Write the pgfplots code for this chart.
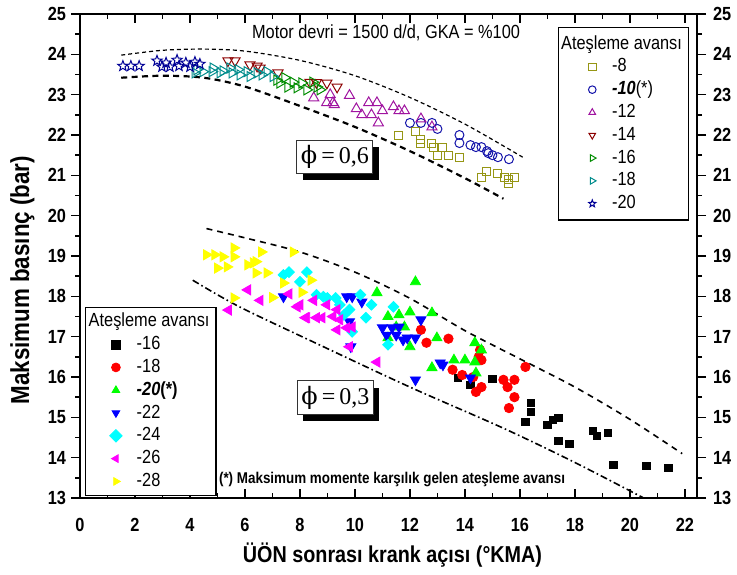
\documentclass[border=0pt]{standalone}
\usepackage{fontspec}
\setmainfont{Liberation Sans}[FakeStretch=0.86]
\newfontfamily\serifphi{Liberation Serif}
\newfontfamily\dejaserif{DejaVu Serif}
\usepackage{pgfplots}
\pgfplotsset{compat=1.18}
\usetikzlibrary{shadows}

\definecolor{c8}{RGB}{150,150,20}
\definecolor{c10}{RGB}{20,20,170}
\definecolor{c12}{RGB}{160,20,160}
\definecolor{c14}{RGB}{140,0,0}
\definecolor{c16}{RGB}{0,140,0}
\definecolor{c18}{RGB}{0,140,140}
\definecolor{c20}{RGB}{0,0,150}
\definecolor{lgreen}{RGB}{0,255,0}
\definecolor{lblue}{RGB}{0,0,255}
\definecolor{lcyan}{RGB}{0,255,255}
\definecolor{lmag}{RGB}{255,0,255}
\definecolor{lyel}{RGB}{255,255,0}
\definecolor{lred}{RGB}{255,0,0}

\pgfdeclareplotmark{ostar}{%
  \pgfpathmoveto{\pgfpointpolar{90}{\pgfplotmarksize}}%
  \pgfpathlineto{\pgfpointpolar{126}{0.42\pgfplotmarksize}}%
  \pgfpathlineto{\pgfpointpolar{162}{\pgfplotmarksize}}%
  \pgfpathlineto{\pgfpointpolar{198}{0.42\pgfplotmarksize}}%
  \pgfpathlineto{\pgfpointpolar{234}{\pgfplotmarksize}}%
  \pgfpathlineto{\pgfpointpolar{270}{0.42\pgfplotmarksize}}%
  \pgfpathlineto{\pgfpointpolar{306}{\pgfplotmarksize}}%
  \pgfpathlineto{\pgfpointpolar{342}{0.42\pgfplotmarksize}}%
  \pgfpathlineto{\pgfpointpolar{18}{\pgfplotmarksize}}%
  \pgfpathlineto{\pgfpointpolar{54}{0.42\pgfplotmarksize}}%
  \pgfpathclose
  \pgfusepathqstroke
}

\pgfplotsset{
  common/.style={
    scale only axis, width=308.5pt, height=242pt,
    xmin=0, xmax=22.44, ymin=13, ymax=25,
    xtick={0,2,...,22}, ytick={13,14,...,25},
    minor x tick num=1, minor y tick num=1,
    major tick length=4.5pt, minor tick length=2.5pt,
    every tick/.append style={black, line width=0.8pt},
    axis line style={line width=0.8pt},
    ticklabel style={font=\bfseries\fontsize{9.5}{10}\selectfont},
    /pgf/number format/assume math mode=true,
    legend cell align=left,
  },
}

\begin{document}
\begin{tikzpicture}
\useasboundingbox (-40pt,-38pt) rectangle (328.5pt,249pt);
% ---------------- axis A: frame, x ticks, left labels, lower group ----------
\begin{axis}[common,
  tick align=inside, ytick pos=left, xtick pos=both,
  y tick style={draw=none},
  xticklabel style={yshift=-6.5pt},
  yticklabel style={xshift=-3.5pt},
  xlabel={ÜÖN sonrası krank açısı (°KMA)},
  ylabel={Maksimum basınç (bar)},
  xlabel style={at={(axis description cs:0.5065,-0.118)}, anchor=center, font=\bfseries\fontsize{11.5}{12}\selectfont},
  ylabel style={at={(axis description cs:-0.0932,0.45)}, anchor=center, font=\bfseries\fontsize{13}{14}\selectfont},
  legend style={at={(axis description cs:0.008,0.395)}, anchor=north west, draw=black, line width=0.6pt, fill=white,
    font=\fontsize{9.5}{10}\selectfont, inner xsep=2pt, inner ysep=1.5pt, row sep=0pt,
    nodes={inner sep=1.2pt, text height=7pt, text depth=2pt}},
  legend image code/.code={\path (0pt,0pt) (22pt,0pt); \draw[#1, mark size=2.2pt] plot coordinates {(13pt,0pt)};},
]
\addlegendimage{empty legend}
\addlegendentry{\hspace*{-24pt}Ateşleme avansı}

\addplot[only marks, mark=square*, mark size=1.8pt, black, line width=0.4pt] coordinates {
(13.75,15.98) (14.2,15.8) (15.0,15.95) (16.4,15.36) (16.4,15.13) (16.2,14.88) (17.0,14.81) (17.2,14.93)
(17.4,14.98) (17.4,14.41) (17.8,14.34) (18.65,14.66) (18.8,14.54) (19.2,14.62) (19.4,13.82) (20.6,13.8) (21.4,13.75)};
\addlegendentry{-16}

\addplot[only marks, mark=*, mark size=2.35pt, lred, line width=0.4pt] coordinates {
(12.4,17.17) (12.6,16.85) (13.4,16.95) (13.55,16.18) (14.3,16.0) (14.4,15.63) (14.6,15.75) (14.55,16.67)
(14.6,16.42) (15.4,15.93) (15.8,15.93) (15.55,15.75) (15.8,15.5) (15.6,15.23) (16.2,16.25) (14.5,16.5) (13.9,16.05)};
\addlegendentry{-18}

\addplot[only marks, mark=triangle*, mark size=2.9pt, lgreen, line width=0.4pt] coordinates {
(12.2,18.36) (10.8,18.09) (11.2,17.5) (11.6,17.54) (12.0,17.61) (12.8,17.59) (11.8,17.24) (11.2,16.97)
(11.5,17.24) (12.0,16.75) (12.98,16.97) (12.8,16.23) (13.6,16.42) (14.0,16.42) (14.36,16.85) (14.6,16.67)
(14.36,16.37) (14.4,16.1)};
\addlegendentry{\textbf{\textit{-20}(*)}}

\addplot[only marks, mark=triangle*, mark options={rotate=180}, mark size=2.9pt, lblue, line width=0.4pt] coordinates {
(7.4,17.99) (9.7,17.99) (9.9,17.99) (10.25,17.86) (9.8,17.37) (11.0,17.22) (11.35,17.22) (11.5,17.04)
(11.6,17.24) (11.75,16.92) (11.9,16.97) (12.2,16.97) (12.4,17.42) (11.15,17.04) (13.1,16.35) (13.2,16.3)
(12.2,15.93) (14.2,15.98) (9.85,16.75)};
\addlegendentry{-22}

\addplot[only marks, mark=square*, mark options={rotate=45}, mark size=1.9pt, lcyan, line width=0.4pt] coordinates {
(7.4,18.53) (7.6,18.6) (8.0,18.36) (8.25,18.6) (8.6,18.04) (8.85,17.99) (9.0,17.96) (9.3,17.96)
(9.45,17.79) (9.6,17.54) (9.8,17.67) (9.9,17.12) (10.2,18.04) (10.4,17.47) (10.6,17.79) (11.4,17.74) (11.2,16.8)};
\addlegendentry{-24}

\addplot[only marks, mark=triangle*, mark options={rotate=90}, mark size=2.9pt, lmag, line width=0.4pt] coordinates {
(6.1,18.16) (6.55,17.9) (5.4,17.66) (7.6,18.06) (7.9,17.74) (8.25,17.47) (8.6,17.47) (8.5,17.9)
(8.8,17.47) (8.98,17.79) (9.2,17.5) (9.35,17.67) (9.35,17.17) (9.45,17.42) (9.7,17.22) (9.9,17.24)
(9.8,16.75) (10.8,16.37) (8.2,17.47) (8.0,17.79)};
\addlegendentry{-26}

\addplot[only marks, mark=triangle*, mark options={rotate=-90}, mark size=2.9pt, lyel, line width=0.4pt] coordinates {
(4.6,19.03) (4.9,19.03) (5.2,18.98) (5.6,19.2) (5.6,18.98) (6.1,18.78) (6.3,18.83) (6.4,18.86)
(6.6,19.1) (5.0,18.7) (5.35,18.73) (6.4,18.58) (6.8,18.58) (7.4,18.33) (7.75,19.1) (8.07,18.1)
(8.4,18.4) (5.6,17.96) (7.0,17.97)};
\addlegendentry{-28}

% boundary curves, lower group
\addplot[forget plot, smooth, black, line width=0.8pt, dash pattern=on 3pt off 2.5pt] coordinates {
(4.6,19.68) (6,19.45) (8,19.1) (10,18.6) (12,17.95) (14,17.15) (16,16.45) (18,15.75) (20,14.95) (21.9,14.1)};
\addplot[forget plot, smooth, black, line width=0.8pt, dash pattern=on 3.5pt off 1.5pt on 0.8pt off 1.5pt] coordinates {
(4.1,18.4) (5.8,17.74) (8.7,16.8) (12,15.75) (15.4,14.73) (18,13.88) (20.5,13.0)};

\node[draw=black!80, line width=0.5pt, fill=white, inner xsep=2pt, inner ysep=2.5pt,
  drop shadow={shadow xshift=3pt, shadow yshift=-3.5pt, fill=black, opacity=1},
  font=\fontsize{12}{13}\selectfont] at (axis cs:9.29,15.49) {{\dejaserif ϕ}{\serifphi\,=\,0,3}};
\node[anchor=west, font=\bfseries\fontsize{7.8}{9}\selectfont] at (axis cs:4.8,13.45)
  {(*) Maksimum momente karşılık gelen ateşleme avansı};
\end{axis}

% ---------------- axis B: y ticks outside, right labels, upper group --------
\begin{axis}[common,
  hide x axis, tick align=outside, ytick pos=both, yticklabel pos=right,
  legend style={at={(axis description cs:0.775,0.973)}, anchor=north west, draw=black, line width=0.6pt, fill=white,
    font=\fontsize{9.5}{10}\selectfont, inner xsep=2pt, inner ysep=2.5pt, row sep=0pt,
    nodes={inner sep=1.2pt, text height=7pt, text depth=2pt}},
  legend image code/.code={\path (0pt,0pt) (23pt,0pt); \draw[#1, mark size=1.9pt] plot coordinates {(14.5pt,0pt)};},
]
\addlegendimage{empty legend}
\addlegendentry{\hspace*{-25.5pt}Ateşleme avansı}

\addplot[only marks, mark=square, mark size=2pt, c8, line width=0.5pt] coordinates {
(11.6,22.0) (12.2,22.08) (12.4,21.9) (12.4,21.8) (12.8,21.8) (12.85,21.7) (13.2,21.7) (13.0,21.5)
(13.4,21.5) (13.8,21.45) (14.8,21.1) (14.6,20.95) (15.2,21.05) (15.45,20.95) (15.6,20.9) (15.8,20.94) (15.6,20.8)};
\addlegendentry{-8}

\addplot[only marks, mark=o, mark size=2.25pt, c10, line width=0.5pt] coordinates {
(12.0,22.3) (12.4,22.3) (12.8,22.3) (13.0,22.15) (13.8,22.0) (13.8,21.8) (14.2,21.75) (14.4,21.7)
(14.6,21.7) (14.8,21.6) (14.85,21.55) (15.0,21.5) (15.2,21.45) (15.6,21.4)};
\addlegendentry{\textbf{\textit{-10}}(*)}

\addplot[only marks, mark=triangle, mark size=2.9pt, c12, line width=0.5pt] coordinates {
(8.5,22.92) (8.97,22.8) (9.2,22.8) (9.8,22.98) (10.05,22.65) (10.25,22.5) (10.5,22.8) (10.6,22.5)
(10.8,22.8) (10.85,22.3) (11.0,22.6) (11.4,22.7) (11.6,22.6) (11.8,22.6) (12.4,22.4) (12.8,22.2)
(9.1,23.0) (9.25,22.75)};
\addlegendentry{-12}

\addplot[only marks, mark=triangle, mark options={rotate=180}, mark size=2.9pt, c14, line width=0.5pt] coordinates {
(5.38,23.84) (5.64,23.84) (6.18,23.74) (6.44,23.71) (6.55,23.66) (7.2,23.54) (8.36,23.31) (8.98,23.29)
(9.35,23.19) (8.6,23.3)};
\addlegendentry{-14}

\addplot[only marks, mark=triangle, mark options={rotate=-90}, mark size=2.9pt, c16, line width=0.5pt] coordinates {
(7.16,23.36) (7.27,23.29) (7.45,23.42) (7.56,23.19) (7.75,23.31) (7.89,23.17) (8.07,23.29) (8.25,23.12)
(8.47,23.31) (8.62,23.19) (8.73,23.12)};
\addlegendentry{-16}

\addplot[only marks, mark=triangle, mark options={rotate=-90}, mark size=2.9pt, c18, line width=0.5pt] coordinates {
(4.18,23.54) (4.25,23.62) (4.47,23.57) (4.8,23.57) (4.84,23.66) (5.09,23.54) (5.2,23.59) (5.45,23.66)
(5.53,23.54) (5.75,23.62) (5.82,23.49) (6.07,23.57) (6.18,23.45) (6.44,23.54) (6.62,23.49) (6.8,23.57) (7.02,23.45)};
\addlegendentry{-18}

\addplot[only marks, mark=ostar, mark size=2.7pt, c20, line width=0.5pt] coordinates {
(1.56,23.71) (1.85,23.71) (2.15,23.71) (2.8,23.84) (2.98,23.69) (3.13,23.79) (3.27,23.69) (3.53,23.86)
(3.6,23.71) (3.85,23.79) (4.0,23.69) (4.18,23.81) (4.36,23.76)};
\addlegendentry{-20}

% boundary curves, upper group
\addplot[forget plot, smooth, black, line width=0.6pt, dash pattern=on 2pt off 1.5pt] coordinates {
(1.5,23.98) (3,24.1) (4.5,24.13) (6,24.08) (8,23.85) (10,23.47) (12,22.93) (14,22.27) (16.1,21.45)};
\addplot[forget plot, smooth, black, line width=1.1pt, dash pattern=on 3pt off 2.2pt] coordinates {
(1.5,23.42) (3,23.47) (4.5,23.42) (6,23.2) (8,22.72) (10,22.2) (12,21.6) (14,20.93) (15.4,20.42)};

\node[draw=black!80, line width=0.5pt, fill=white, inner xsep=2pt, inner ysep=2.5pt,
  drop shadow={shadow xshift=3pt, shadow yshift=-3.5pt, fill=black, opacity=1},
  font=\fontsize{12}{13}\selectfont] at (axis cs:9.27,21.46) {{\dejaserif ϕ}{\serifphi\,=\,0,6}};
\node[font=\fontsize{9.5}{10}\selectfont] at (axis cs:11.13,24.53) {Motor devri = 1500 d/d, GKA = \%100};
\end{axis}
\end{tikzpicture}
\end{document}
